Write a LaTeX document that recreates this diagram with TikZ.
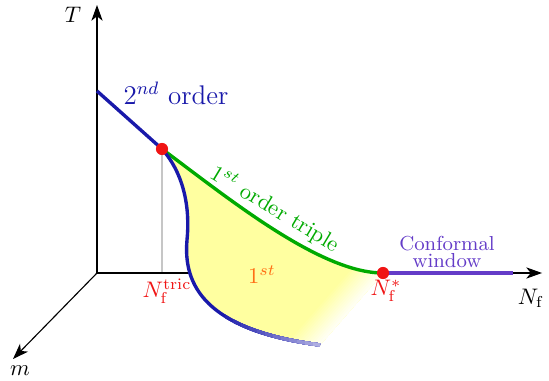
\documentclass[tikz,border=0pt]{standalone}
\usetikzlibrary{arrows.meta}
\definecolor{mainblue}{RGB}{25,25,170}
\definecolor{tripgreen}{RGB}{0,170,0}
\definecolor{cwpurple}{RGB}{100,60,200}
\definecolor{dotred}{RGB}{240,20,20}
\definecolor{firstorange}{RGB}{255,110,20}
\definecolor{fillyellow}{RGB}{255,255,160}
\begin{document}
\begin{tikzpicture}[x=0.4444pt, y=-0.4444pt,
  axis/.style={line width=0.5pt, -{Stealth[length=7pt,width=5pt,inset=2pt]}},
  thickline/.style={line width=1.5pt},
  dot/.style={circle, fill=dotred, inner sep=0pt, minimum size=5.4pt},
]
\useasboundingbox (0,0) rectangle (549,381);

\coordinate (O) at (97,273);
\coordinate (Ttip) at (97,5);
\coordinate (Ntip) at (542,273);
\coordinate (mtip) at (13,359);
\coordinate (Tstart) at (97,91);
\coordinate (P) at (162,149);
\coordinate (Q) at (383,273);
\coordinate (Pfoot) at (162,273);
\coordinate (Cend) at (513,273);

\def\regionpath{(162,149) .. controls (228,198) and (320,273) .. (383,273) -- (320,345) .. controls (205,330) and (183,285) .. (187,240) .. controls (190,210) and (185,175) .. (162,149) -- cycle}
\def\bluecurve{(162,149) .. controls (185,175) and (190,210) .. (187,240) .. controls (183,285) and (205,330) .. (320,345)}

% axes (under the filled region)
\draw[gray!45, line width=0.6pt] (P) -- (Pfoot);
\draw[axis] (O) -- (Ttip);
\draw[axis] (O) -- (Ntip);
\draw[axis] (O) -- (mtip);

% yellow region with faded edge
\begin{scope}
  \clip \regionpath;
  \fill[fillyellow] (150,140) rectangle (400,360);
  \foreach \i in {0,...,14}{
    \pgfmathsetmacro{\s}{-26+\i*2}
    \pgfmathsetmacro{\c}{100*(1-(\i+1)/15)}
    \fill[fillyellow!\c!white]
      ({383+\s*0.7526+98.8},{273+\s*0.6585-112.9}) --
      ({383+\s*0.7526-98.8},{273+\s*0.6585+112.9}) --
      ({383+30.1-98.8},{273+26.3+112.9}) --
      ({383+30.1+98.8},{273+26.3-112.9}) -- cycle;
  }
\end{scope}

% lines
\draw[thickline, mainblue] (Tstart) -- (P);
\draw[thickline, tripgreen] (P) .. controls (228,198) and (320,273) .. (Q);
\draw[thickline, cwpurple] (Q) -- (Cend);

% blue curve with fading tail
\draw[thickline, mainblue] \bluecurve;
\foreach \k in {0,...,12}{
  \pgfmathsetmacro{\xx}{225+\k*8}
  \pgfmathsetmacro{\cc}{100-70*(\k+1)/13}
  \begin{scope}
    \clip (\xx,0) rectangle (549,381);
    \draw[thickline, mainblue!\cc!white] \bluecurve;
  \end{scope}
}

% dots
\node[dot] (dP) at (P) {};
\node[dot] (dQ) at (Q) {};

% labels
\node (lT) at (73,15) {$T$};
\node (lNf) at (531,298) {$N_{\mathrm{f}}$};
\node (lm) at (20,371) {$m$};
\node[text=mainblue, font=\large] (l2nd) at (176,93) {$2^{nd}$ order};
\node[text=tripgreen, rotate=-31] (ltriple) at (275,209) {$1^{st}$ order triple};
\node[text=firstorange] (l1st) at (262,275) {$1^{st}$};
\node[text=dotred] (ltric) at (167,291) {$N_{\mathrm{f}}^{\mathrm{tric}}$};
\node[text=dotred] (lstar) at (386,291) {$N_{\mathrm{f}}^{*}$};
\node[text=cwpurple, font=\small, align=center] (lcw) at (447,252) {Conformal\\[-3.5pt]window};
\end{tikzpicture}
\end{document}
